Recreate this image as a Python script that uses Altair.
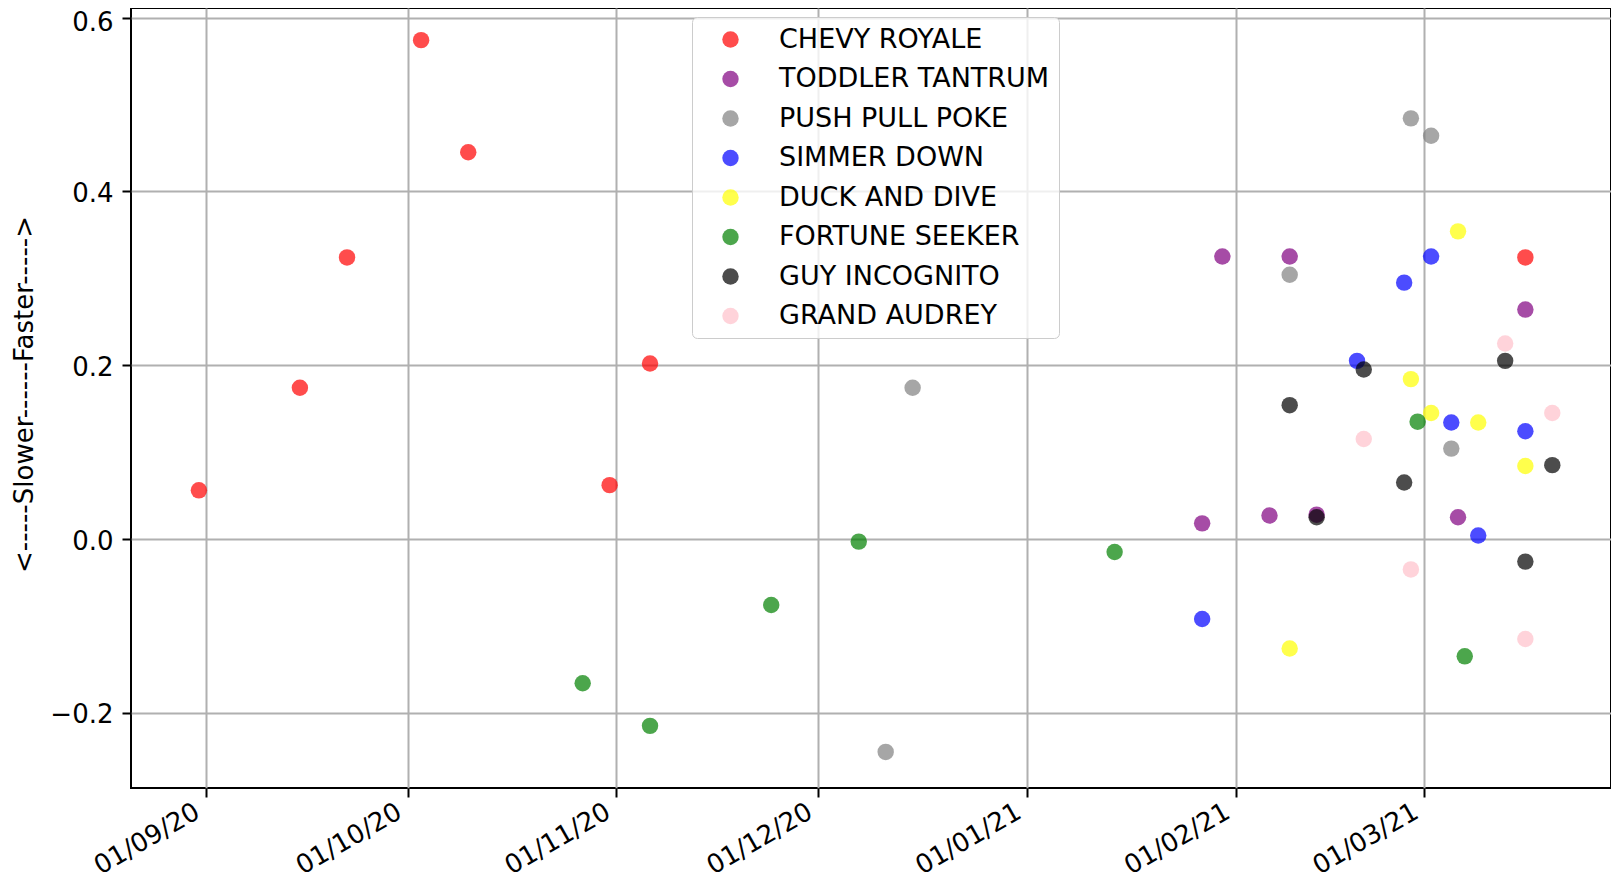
import altair as alt
import pandas as pd

# ---- data ----
series_names = ["CHEVY ROYALE", "TODDLER TANTRUM", "PUSH PULL POKE", "SIMMER DOWN",
                "DUCK AND DIVE", "FORTUNE SEEKER", "GUY INCOGNITO", "GRAND AUDREY"]
series_colors = ["#ff0000", "#800080", "#808080", "#0000ff",
                 "#ffff00", "#008000", "#000000", "#ffc0cb"]

chevy_dates = ["2020-08-31", "2020-09-15", "2020-09-22", "2020-10-03", "2020-10-10",
               "2020-10-31", "2020-11-06", "2021-03-16"]
chevy_vals = [0.056, 0.174, 0.324, 0.574, 0.445, 0.062, 0.202, 0.324]

toddler_dates = ["2021-01-27", "2021-01-30", "2021-02-06", "2021-02-09", "2021-02-13",
                 "2021-03-06", "2021-03-16"]
toddler_vals = [0.018, 0.325, 0.027, 0.325, 0.028, 0.025, 0.264]

push_dates = ["2020-12-11", "2020-12-15", "2021-02-09", "2021-02-27", "2021-03-02", "2021-03-05"]
push_vals = [-0.245, 0.174, 0.304, 0.484, 0.464, 0.104]

simmer_dates = ["2021-01-27", "2021-02-19", "2021-02-26", "2021-03-02", "2021-03-05",
                "2021-03-09", "2021-03-16"]
simmer_vals = [-0.092, 0.205, 0.295, 0.325, 0.134, 0.004, 0.124]

duck_dates = ["2021-02-09", "2021-02-27", "2021-03-02", "2021-03-06", "2021-03-09", "2021-03-16"]
duck_vals = [-0.126, 0.184, 0.145, 0.354, 0.134, 0.084]

fortune_dates = ["2020-10-27", "2020-11-06", "2020-11-24", "2020-12-07", "2021-01-14",
                 "2021-02-28", "2021-03-07"]
fortune_vals = [-0.166, -0.215, -0.076, -0.003, -0.015, 0.135, -0.135]

guy_dates = ["2021-02-09", "2021-02-13", "2021-02-20", "2021-02-26", "2021-03-13",
             "2021-03-16", "2021-03-20"]
guy_vals = [0.154, 0.025, 0.195, 0.065, 0.205, -0.026, 0.085]

audrey_dates = ["2021-02-20", "2021-02-27", "2021-03-13", "2021-03-16", "2021-03-20"]
audrey_vals = [0.115, -0.035, 0.225, -0.115, 0.145]

month_ticks = ["2020-09-01", "2020-10-01", "2020-11-01", "2020-12-01",
               "2021-01-01", "2021-02-01", "2021-03-01"]
y_ticks = [-0.2, 0.0, 0.2, 0.4, 0.6]

all_dates = [chevy_dates, toddler_dates, push_dates, simmer_dates,
             duck_dates, fortune_dates, guy_dates, audrey_dates]
all_vals = [chevy_vals, toddler_vals, push_vals, simmer_vals,
            duck_vals, fortune_vals, guy_vals, audrey_vals]

rows = []
for name, ds, vs in zip(series_names, all_dates, all_vals):
    for d, v in zip(ds, vs):
        rows.append({"date": d, "value": v, "series": name})
df = pd.DataFrame(rows)

FONT = "DejaVu Sans"

def dt(s, h=0, mi=0):
    y, m, d = [int(p) for p in s.split("-")]
    return alt.DateTime(year=y, month=m, date=d, hours=h, minutes=mi, utc=True)

x_enc = alt.X(
    "date:T",
    scale=alt.Scale(type="utc", domain=[dt("2020-08-20", 22), dt("2021-03-28", 17, 15)], nice=False),
    axis=alt.Axis(
        values=[dt(s) for s in month_ticks],
        labelExpr="utcFormat(datum.value, '%d/%m/%y')",
        labelAngle=330, labelAlign="right", labelBaseline="top",
        labelOffset=-15, labelPadding=1,
        labelFont=FONT, labelFontSize=26, labelColor="black",
        tickSize=9, tickWidth=2, tickColor="black",
        domain=False, grid=True, gridColor="#b0b0b0", gridWidth=2,
        title=None, labelOverlap=False, labelBound=False,
    ),
)

y_enc = alt.Y(
    "value:Q",
    scale=alt.Scale(domain=[-0.2865, 0.611], nice=False, zero=False),
    axis=alt.Axis(
        values=y_ticks,
        labelExpr="replace(format(datum.value, '.1f'), '-', '\u2212')",
        labelFont=FONT, labelFontSize=26, labelColor="black", labelPadding=9,
        labelOffset={"condition": {"test": "datum.value > 0.55", "value": 5}, "value": 2},
        tickSize=9, tickWidth=2, tickColor="black",
        domain=False, grid=True, gridColor="#b0b0b0", gridWidth=2,
        title="<-----Slower------Faster----->",
        titleFont=FONT, titleFontSize=26, titleFontWeight="normal", titleColor="black",
        titleAngle=270, titleX=-107, titleY=386, titleAlign="center", titleBaseline="middle",
        labelOverlap=False,
    ),
)

color_enc = alt.Color(
    "series:N",
    scale=alt.Scale(domain=series_names, range=series_colors),
    legend=alt.Legend(
        orient="none", legendX=561, legendY=9, title=None,
        labelFont=FONT, labelFontSize=27, labelColor="black", labelLimit=500,
        symbolType="circle", symbolSize=270, symbolOpacity=0.7, symbolStrokeWidth=0,
        padding=9, rowPadding=11.5, symbolOffset=16, labelOffset=35,
        strokeColor="#cccccc", fillColor="rgba(255,255,255,0.8)",
        cornerRadius=5,
    ),
)

chart = (
    alt.Chart(df)
    .mark_circle(size=270, opacity=0.7)
    .encode(x=x_enc, y=y_enc, color=color_enc)
    .properties(
        width=1480, height=780,
        autosize=alt.AutoSizeParams(type="none"),
        padding={"left": 123, "top": 0, "right": 0, "bottom": 92},
    )
    .configure_view(stroke="black", strokeWidth=2)
)

chart.save("out.html", embed_options={"renderer": "svg", "actions": False})
